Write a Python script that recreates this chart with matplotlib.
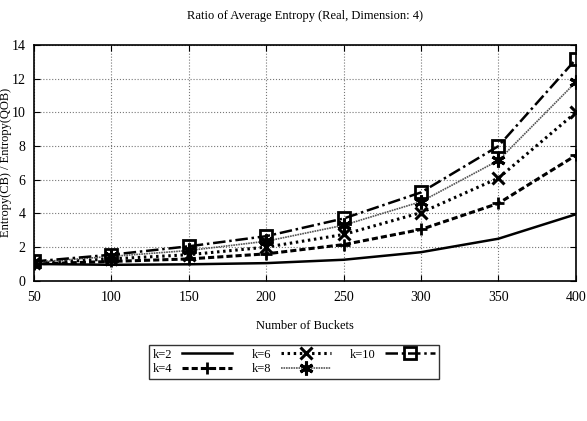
import matplotlib
matplotlib.use('Agg')
import matplotlib.pyplot as plt

buckets = [50, 100, 150, 200, 250, 300, 350, 400]
k2 = [1.0, 0.95, 0.98, 1.05, 1.25, 1.7, 2.5, 3.95]
k4 = [1.0, 1.15, 1.3, 1.6, 2.15, 3.05, 4.6, 7.45]
k6 = [1.05, 1.3, 1.55, 2.0, 2.75, 4.05, 6.1, 10.0]
k8 = [1.1, 1.45, 1.8, 2.35, 3.3, 4.7, 7.15, 11.8]
k10 = [1.15, 1.55, 2.05, 2.65, 3.7, 5.25, 8.0, 13.15]

plt.rcParams['font.family'] = ['Liberation Serif', 'DejaVu Serif']
plt.rcParams['font.size'] = 9

fig = plt.figure(figsize=(5.87, 4.21), dpi=100)
ax = fig.add_axes([0.058, 0.333, 0.923, 0.56])

ax.plot(buckets, k2, color='black', lw=1.8, ls='-', label='k=2')
ax.plot(buckets, k4, color='black', lw=2.2, ls=(0, (2, 1)), marker='+',
        ms=9, mew=2, label='k=4')
ax.plot(buckets, k6, color='black', lw=2.2, ls=(0, (0.8, 1.2)), marker='x',
        ms=8, mew=2.2, label='k=6')
ax.plot(buckets, k8, color='#555555', lw=1.2, ls=(0, (1, 0.5)), marker=(6, 2, 0),
        ms=10, mew=2.2, mec='black', label='k=8')
ax.plot(buckets, k10, color='black', lw=1.8, ls=(0, (5, 1.5, 1, 1.5)), marker='s',
        ms=8, mew=2, mfc='none', mec='black', label='k=10')

ax.set_xlim(50, 400)
ax.set_ylim(0, 14)
ax.set_xticks(buckets)
ax.set_yticks(range(0, 15, 2))
ax.grid(True, color='#777777', ls=':', lw=0.8)
ax.tick_params(direction='in', top=True, right=True, length=4, labelsize=10)
ax.tick_params(axis='x', pad=7)
ax.tick_params(axis='y', pad=6)
for s in ax.spines.values():
    s.set_linewidth(1.2)

ax.set_title('Ratio of Average Entropy (Real, Dimension: 4)', fontsize=9, pad=19)
ax.set_xlabel('Number of Buckets', fontsize=9, labelpad=12)
ax.set_ylabel('Entropy(CB) / Entropy(QOB)', fontsize=9)
ax.yaxis.set_label_coords(-0.04, 0.5)

leg = ax.legend(loc='upper center', bbox_to_anchor=(0.48, -0.245), ncol=3,
                markerfirst=False, frameon=True, fancybox=False, edgecolor='black',
                handlelength=4, fontsize=9, borderpad=0.3, labelspacing=0.2,
                columnspacing=1.5)
leg.get_frame().set_linewidth(1.0)

fig.savefig('out.png', dpi=100)
